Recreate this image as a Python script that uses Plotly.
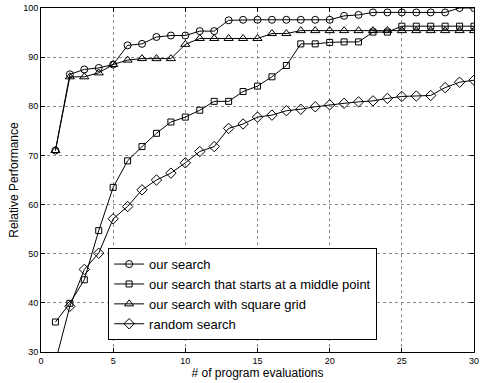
import plotly.graph_objects as go

evaluations = list(range(1, 31))

our_search = [71.0, 86.5, 87.5, 87.8, 88.5, 92.4, 92.7, 94.1, 94.4, 94.4,
              95.3, 95.3, 97.5, 97.6, 97.6, 97.6, 97.6, 97.6, 97.6, 97.6,
              98.4, 98.6, 99.1, 99.1, 99.1, 99.1, 99.1, 99.1, 100.0, 100.0]

middle_point = [36.1, 39.9, 44.7, 54.7, 63.5, 68.9, 71.8, 74.5, 76.8, 77.8,
                79.2, 81.0, 81.0, 83.0, 84.1, 86.0, 88.3, 92.7, 92.7, 93.0,
                93.1, 93.1, 95.1, 95.1, 96.3, 96.3, 96.3, 96.3, 96.3, 96.3]

square_grid = [71.0, 86.0, 86.0, 86.8, 88.5, 89.4, 89.7, 89.7, 89.7, 92.6,
               93.8, 93.8, 93.8, 93.8, 93.8, 94.8, 94.8, 95.4, 95.4, 95.4,
               95.4, 95.4, 95.4, 95.4, 95.4, 95.4, 95.4, 95.4, 95.4, 95.4]

random_search = [28.0, 39.3, 46.8, 50.1, 57.1, 59.6, 63.0, 65.0, 66.4, 68.5,
                 70.8, 71.8, 75.5, 76.4, 77.8, 78.2, 79.1, 79.4, 79.9, 80.3,
                 80.6, 80.9, 81.1, 81.6, 82.0, 82.1, 82.2, 83.8, 84.9, 85.3]

series = [
    ("our search", our_search, "circle-open", 7),
    ("our search that starts at a middle point", middle_point, "square-open", 6),
    ("our search with square grid", square_grid, "triangle-up-open", 8),
    ("random search", random_search, "diamond-open", 8),
]

x_ticks = [0, 5, 10, 15, 20, 25, 30]
y_ticks = [30, 40, 50, 60, 70, 80, 90, 100]

fig = go.Figure()
for name, vals, sym, size in series:
    fig.add_trace(go.Scatter(
        x=evaluations, y=vals, name=name, mode="lines+markers",
        line=dict(color="black", width=1),
        marker=dict(symbol=sym, size=size, color="black", line=dict(width=1, color="black")),
    ))

axis_common = dict(
    showline=True, linecolor="black", linewidth=1, mirror="ticks",
    ticks="inside", ticklen=4, tickcolor="black",
    showgrid=True, gridcolor="#8a8a8a", griddash="dot", gridwidth=1,
    zeroline=False, tickfont=dict(size=9, color="black"),
    ticklabeloverflow="allow",
)

fig.update_layout(
    width=482, height=383,
    margin=dict(l=41, r=3, t=7, b=31),
    paper_bgcolor="white", plot_bgcolor="white",
    font=dict(family="Liberation Sans, Arial, sans-serif", color="black"),
    xaxis=dict(range=[0, 30], tickvals=x_ticks,
               title=dict(text="# of program evaluations", font=dict(size=12), standoff=2),
               **axis_common),
    yaxis=dict(range=[30, 100], tickvals=y_ticks,
               title=dict(text="Relative Performance", font=dict(size=12), standoff=1),
               **axis_common),
    legend=dict(x=0.155, y=0.302, xanchor="left", yanchor="top",
                bgcolor="white", bordercolor="black", borderwidth=1,
                font=dict(size=13, color="black"), tracegroupgap=0),
    showlegend=True,
)

fig.write_html("out.html", config={"displayModeBar": False},
               post_script="document.body.style.margin='0';document.body.style.overflow='hidden';")
